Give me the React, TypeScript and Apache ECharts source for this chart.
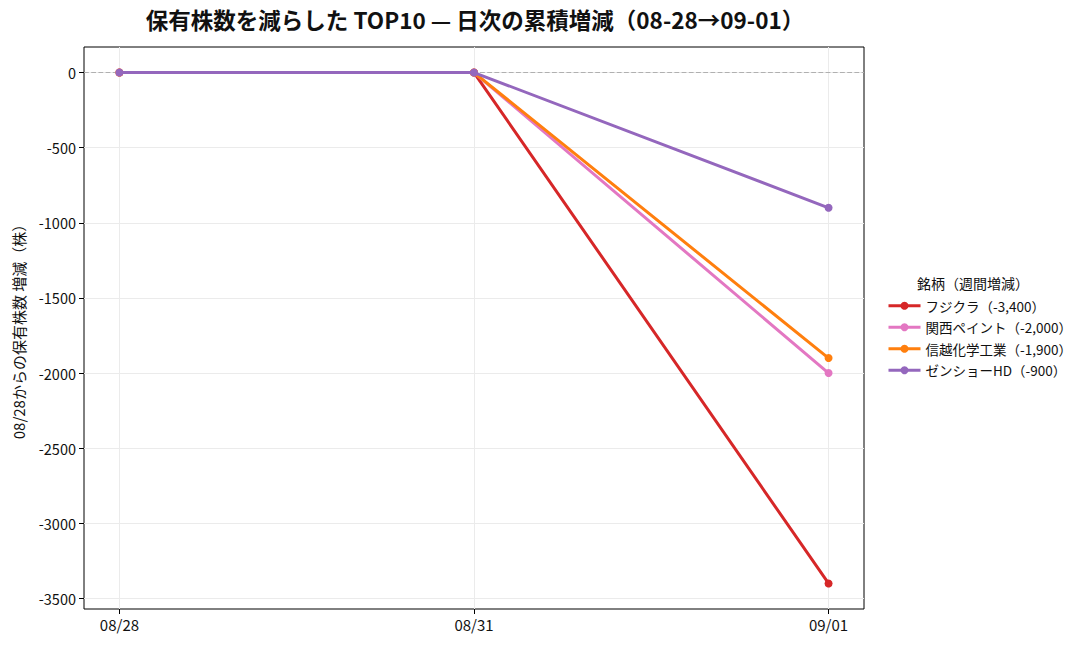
import React, { useEffect, useRef } from 'react';
import * as echarts from 'echarts';

const dates = ['08/28', '08/31', '09/01'];
const seriesNames = ['フジクラ（-3,400）', '関西ペイント（-2,000）', '信越化学工業（-1,900）', 'ゼンショーHD（-900）'];
const fujikura = [0, 0, -3400];
const kansai = [0, 0, -2000];
const shinetsu = [0, 0, -1900];
const zensho = [0, 0, -900];
const colors = ['#d62728', '#e377c2', '#ff7f0e', '#9467bd'];
const yTicks = [0, -500, -1000, -1500, -2000, -2500, -3000, -3500];

const FONT = '"Noto Sans CJK JP", "Noto Sans", sans-serif';

const App: React.FC = () => {
  const chartRef = useRef<HTMLDivElement>(null);

  useEffect(() => {
    document.body.style.margin = '0';
    if (!chartRef.current) return;
    const chart = echarts.init(chartRef.current, null, { renderer: 'svg' });

    const allValues = [fujikura, kansai, shinetsu, zensho];

    const option: echarts.EChartsOption = {
      animation: false,
      textStyle: { fontFamily: FONT },
      title: {
        text: '保有株数を減らした TOP10 — 日次の累積増減（08-28→09-01）',
        left: 470,
        top: 3,
        textAlign: 'center',
        textStyle: { fontSize: 22.5, fontWeight: 'bold', color: '#111', fontFamily: FONT }
      },
      grid: {
        left: 84,
        right: 224,
        top: 47,
        bottom: 40,
        show: true,
        borderColor: '#000',
        borderWidth: 1,
        backgroundColor: 'transparent'
      },
      xAxis: {
        type: 'value',
        min: -0.1,
        max: 2.1,
        axisLine: { show: false, onZero: false },
        axisTick: { show: true, length: 5, lineStyle: { color: '#000' }, customValues: [0, 1, 2] } as any,
        axisLabel: {
          color: '#111',
          fontSize: 15,
          margin: 8,
          customValues: [0, 1, 2],
          formatter: (v: number) => dates[Math.round(v)] ?? ''
        } as any,
        splitLine: { show: true, lineStyle: { color: '#ebebeb', width: 1 } }
      },
      yAxis: {
        type: 'value',
        min: -3570,
        max: 170,
        name: '08/28からの保有株数 増減（株）',
        nameLocation: 'middle',
        nameGap: 58,
        nameTextStyle: { fontSize: 15, color: '#111' },
        axisLine: { show: false, onZero: false },
        axisTick: { show: true, length: 5, lineStyle: { color: '#000' }, customValues: yTicks } as any,
        axisLabel: {
          color: '#111',
          fontSize: 14.5,
          margin: 8,
          customValues: yTicks,
          formatter: (v: number) => String(v)
        } as any,
        splitLine: { show: true, lineStyle: { color: '#ebebeb', width: 1 } }
      },
      legend: {
        orient: 'vertical',
        left: 882,
        top: 294,
        itemWidth: 32,
        itemHeight: 10,
        itemGap: 8,
        lineStyle: { width: 3 },
        textStyle: { fontSize: 13.5, color: '#111', fontFamily: FONT },
        data: seriesNames
      },
      graphic: [
        {
          type: 'text',
          left: 917,
          top: 276,
          style: { text: '銘柄（週間増減）', fontSize: 14, fill: '#111', fontFamily: FONT }
        }
      ],
      series: seriesNames.map((name, i) => ({
        name,
        type: 'line',
        data: allValues[i].map((v, j) => [j, v]),
        symbol: 'circle',
        symbolSize: 8,
        lineStyle: { width: 3, color: colors[i] },
        itemStyle: { color: colors[i] },
        z: 3 + i,
        markLine:
          i === 0
            ? {
                silent: true,
                symbol: 'none',
                label: { show: false },
                lineStyle: { color: '#b0b0b0', type: 'dashed', width: 1.2 },
                data: [{ yAxis: 0 }]
              }
            : undefined
      }))
    };

    chart.setOption(option);
    return () => {
      chart.dispose();
    };
  }, []);

  return <div ref={chartRef} style={{ width: '1088px', height: '649px' }} />;
};

export default App;
